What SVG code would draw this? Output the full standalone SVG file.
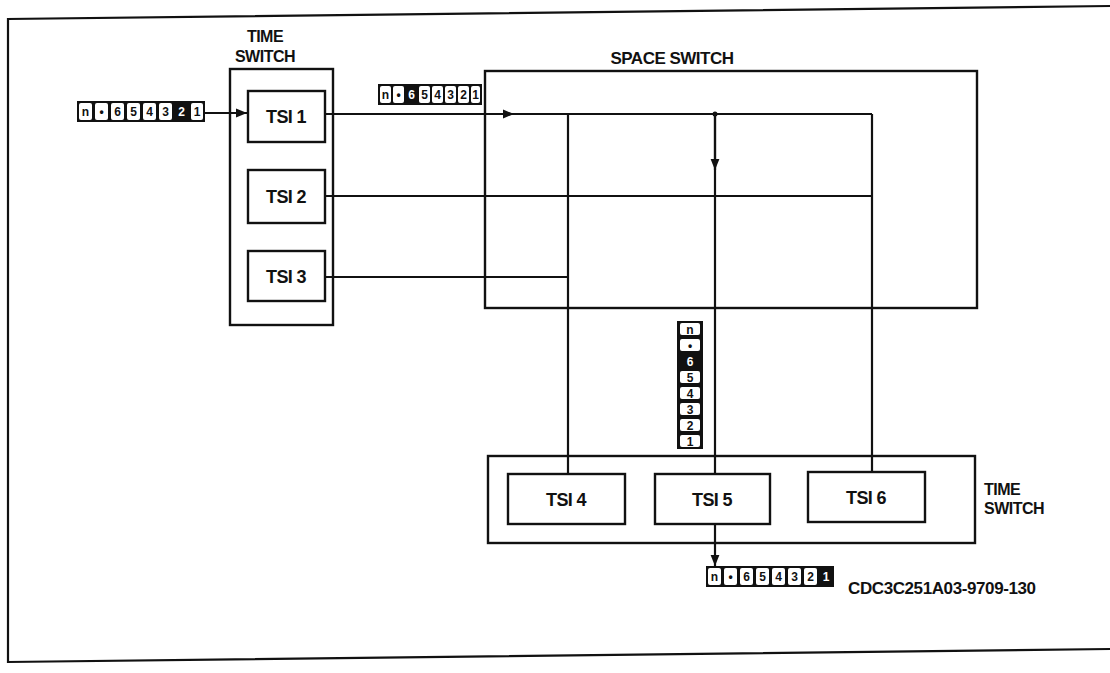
<svg xmlns="http://www.w3.org/2000/svg" width="1110" height="673" viewBox="0 0 1110 673">
<style>
.box{fill:#fff;stroke:#111;stroke-width:2.4}
.ln{fill:none;stroke:#111;stroke-width:2.2}
.lbl{font-family:"Liberation Sans",Arial,sans-serif;font-weight:bold;font-size:16px;fill:#111;letter-spacing:-0.5px}
.tsi{font-family:"Liberation Sans",Arial,sans-serif;font-weight:bold;font-size:18px;fill:#111;text-anchor:middle;letter-spacing:-0.6px}
.cell{fill:#fff}
.ct{font-family:"Liberation Sans",Arial,sans-serif;font-weight:bold;font-size:12px;fill:#111;text-anchor:middle}
.cw{font-family:"Liberation Sans",Arial,sans-serif;font-weight:bold;font-size:12px;fill:#fff;text-anchor:middle}
</style>
<defs>
<marker id="ah" viewBox="0 0 10 10" refX="10" refY="5" markerWidth="5" markerHeight="5" orient="auto" markerUnits="strokeWidth">
<path d="M0,1 L10,5 L0,9 z" fill="#111"/>
</marker>
</defs>
<rect width="1110" height="673" fill="#fff"/>
<polyline class="ln" points="1110,6 8,19 8,662 1110,649"/>

<g id="time-switch-1">
<text class="lbl" x="265" y="42" text-anchor="middle">TIME</text>
<text class="lbl" x="265" y="62" text-anchor="middle">SWITCH</text>
<rect class="box" x="230" y="69" width="103" height="256"/>
</g>
<g id="tsi1"><rect class="box" x="248" y="91" width="77" height="51"/><text class="tsi" x="286" y="123">TSI 1</text></g>
<g id="tsi2"><rect class="box" x="248" y="170" width="77" height="53"/><text class="tsi" x="286" y="203">TSI 2</text></g>
<g id="tsi3"><rect class="box" x="248" y="251" width="77" height="50"/><text class="tsi" x="286" y="283">TSI 3</text></g>

<g id="space-switch">
<text class="lbl" x="672" y="64" text-anchor="middle" style="font-size:17px">SPACE SWITCH</text>
<rect class="box" x="485" y="71" width="492" height="237"/>
</g>

<g id="time-switch-2">
<rect class="box" x="488" y="456" width="487" height="87"/>
<text class="lbl" x="984" y="495">TIME</text>
<text class="lbl" x="984" y="514">SWITCH</text>
</g>
<g id="tsi4"><rect class="box" x="508" y="474" width="117" height="50"/><text class="tsi" x="566" y="506">TSI 4</text></g>
<g id="tsi5"><rect class="box" x="655" y="474" width="115" height="50"/><text class="tsi" x="712" y="506">TSI 5</text></g>
<g id="tsi6"><rect class="box" x="808" y="472" width="117" height="50"/><text class="tsi" x="866" y="504">TSI 6</text></g>

<g id="connectors">
<line class="ln" x1="205" y1="113" x2="247" y2="113" marker-end="url(#ah)"/>
<line class="ln" x1="325" y1="114" x2="872" y2="114"/>
<line class="ln" x1="325" y1="114" x2="514" y2="114" marker-end="url(#ah)"/>
<line class="ln" x1="325" y1="196" x2="872" y2="196"/>
<line class="ln" x1="325" y1="277" x2="568" y2="277"/>
<line class="ln" x1="568" y1="114" x2="568" y2="474"/>
<line class="ln" x1="715" y1="114" x2="715" y2="474"/>
<line class="ln" x1="715" y1="114" x2="715" y2="170" marker-end="url(#ah)"/>
<line class="ln" x1="872" y1="114" x2="872" y2="472"/>
<line class="ln" x1="715" y1="524" x2="715" y2="566" marker-end="url(#ah)"/>
<circle cx="715" cy="114" r="2.5" fill="#111"/>
</g>

<g id="frames-in">
<rect x="77" y="101" width="128" height="21" fill="#111"/>
<rect class="cell" x="79" y="103" width="13" height="17" rx="2"/><text class="ct" x="85.5" y="116">n</text>
<rect class="cell" x="95" y="103" width="13" height="17" rx="2"/><text class="ct" x="101.5" y="116">•</text>
<rect class="cell" x="111" y="103" width="13" height="17" rx="2"/><text class="ct" x="117.5" y="116">6</text>
<rect class="cell" x="127" y="103" width="13" height="17" rx="2"/><text class="ct" x="133.5" y="116">5</text>
<rect class="cell" x="143" y="103" width="13" height="17" rx="2"/><text class="ct" x="149.5" y="116">4</text>
<rect class="cell" x="159" y="103" width="13" height="17" rx="2"/><text class="ct" x="165.5" y="116">3</text>
<text class="cw" x="181.5" y="116">2</text>
<rect class="cell" x="191" y="103" width="12" height="17" rx="2"/><text class="ct" x="197" y="116">1</text>
</g>

<g id="frames-space">
<rect x="378" y="84" width="104" height="21" fill="#111"/>
<rect class="cell" x="380" y="86" width="11" height="17" rx="2"/><text class="ct" x="385.5" y="99">n</text>
<rect class="cell" x="393" y="86" width="11" height="17" rx="2"/><text class="ct" x="398.5" y="99">•</text>
<text class="cw" x="411.5" y="99">6</text>
<rect class="cell" x="419" y="86" width="11" height="17" rx="2"/><text class="ct" x="424.5" y="99">5</text>
<rect class="cell" x="432" y="86" width="11" height="17" rx="2"/><text class="ct" x="437.5" y="99">4</text>
<rect class="cell" x="445" y="86" width="11" height="17" rx="2"/><text class="ct" x="450.5" y="99">3</text>
<rect class="cell" x="458" y="86" width="11" height="17" rx="2"/><text class="ct" x="463.5" y="99">2</text>
<rect class="cell" x="471" y="86" width="9" height="17" rx="2"/><text class="ct" x="475.5" y="99">1</text>
</g>

<g id="frames-vertical">
<rect x="677" y="321" width="26" height="128" fill="#111"/>
<rect class="cell" x="680" y="323" width="20" height="12" rx="2"/><text class="ct" x="690" y="333.5">n</text>
<rect class="cell" x="680" y="339" width="20" height="12" rx="2"/><text class="ct" x="690" y="349.5">•</text>
<text class="cw" x="690" y="365.5">6</text>
<rect class="cell" x="680" y="371" width="20" height="12" rx="2"/><text class="ct" x="690" y="381.5">5</text>
<rect class="cell" x="680" y="387" width="20" height="12" rx="2"/><text class="ct" x="690" y="397.5">4</text>
<rect class="cell" x="680" y="403" width="20" height="12" rx="2"/><text class="ct" x="690" y="413.5">3</text>
<rect class="cell" x="680" y="419" width="20" height="12" rx="2"/><text class="ct" x="690" y="429.5">2</text>
<rect class="cell" x="680" y="435" width="20" height="12" rx="2"/><text class="ct" x="690" y="445.5">1</text>
</g>

<g id="frames-out">
<rect x="706" y="566" width="128" height="21" fill="#111"/>
<rect class="cell" x="708" y="568" width="13" height="17" rx="2"/><text class="ct" x="714.5" y="581">n</text>
<rect class="cell" x="724" y="568" width="13" height="17" rx="2"/><text class="ct" x="730.5" y="581">•</text>
<rect class="cell" x="740" y="568" width="13" height="17" rx="2"/><text class="ct" x="746.5" y="581">6</text>
<rect class="cell" x="756" y="568" width="13" height="17" rx="2"/><text class="ct" x="762.5" y="581">5</text>
<rect class="cell" x="772" y="568" width="13" height="17" rx="2"/><text class="ct" x="778.5" y="581">4</text>
<rect class="cell" x="788" y="568" width="13" height="17" rx="2"/><text class="ct" x="794.5" y="581">3</text>
<rect class="cell" x="804" y="568" width="13" height="17" rx="2"/><text class="ct" x="810.5" y="581">2</text>
<text class="cw" x="826" y="581">1</text>
</g>

<text class="lbl" x="848" y="594" style="font-size:17px;letter-spacing:-0.4px">CDC3C251A03-9709-130</text>
</svg>
